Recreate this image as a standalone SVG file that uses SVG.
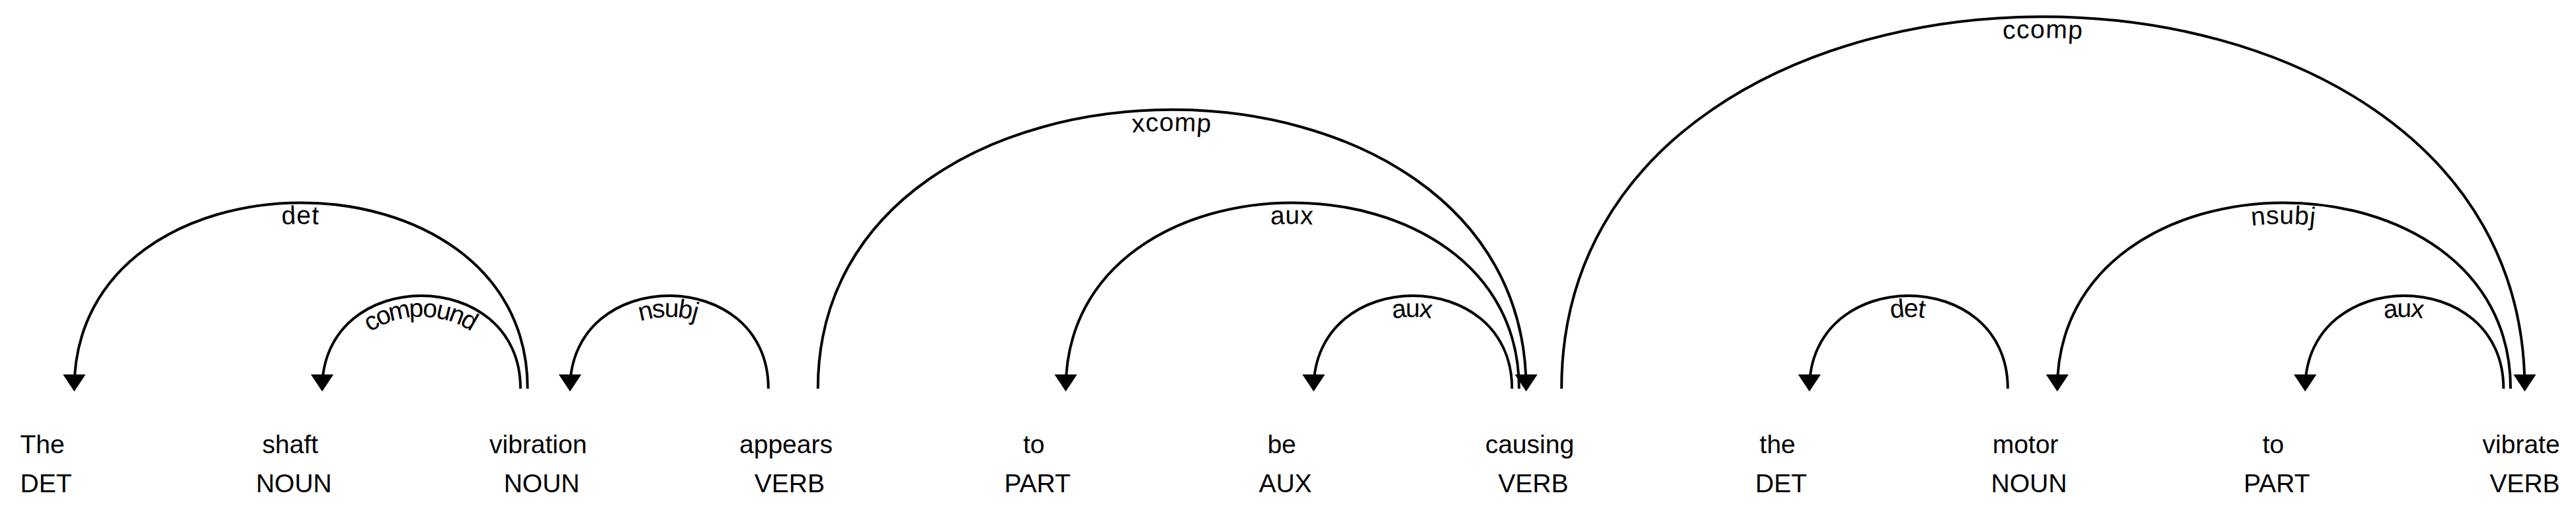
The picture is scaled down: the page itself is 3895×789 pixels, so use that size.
<svg xmlns="http://www.w3.org/2000/svg" width="3895" height="789" viewBox="0 0 3895 789">
<style>
  .w { font-family: "Liberation Sans", Arial, sans-serif; font-size: 39px; fill: #000; text-anchor: middle; }
  .arc { fill: none; stroke: #000; stroke-width: 4px; }
  .head { fill: #000; stroke: none; }
  .lbl { font-family: "Liberation Sans", Arial, sans-serif; font-size: 39px; letter-spacing: 2px; fill: #000; }
</style>
<rect x="0" y="0" width="3895" height="789" fill="#fff"/>
<defs>
  <path id="a0" d="M112.3,587.5 C112.3,212.7 797.7,212.7 797.7,587.5"/>
  <path id="a1" d="M487.1,587.5 C487.1,400.1 787,400.1 787,587.5"/>
  <path id="a2" d="M861.9,587.5 C861.9,400.1 1161.8,400.1 1161.8,587.5"/>
  <path id="a3" d="M1236.7,587.5 C1236.7,25.3 2307.6,25.3 2307.6,587.5"/>
  <path id="a4" d="M1611.5,587.5 C1611.5,212.7 2296.9,212.7 2296.9,587.5"/>
  <path id="a5" d="M1986.3,587.5 C1986.3,400.1 2286.2,400.1 2286.2,587.5"/>
  <path id="a6" d="M2361.1,587.5 C2361.1,-162.1 3817.5,-162.1 3817.5,587.5"/>
  <path id="a7" d="M2735.9,587.5 C2735.9,400.1 3035.8,400.1 3035.8,587.5"/>
  <path id="a8" d="M3110.7,587.5 C3110.7,212.7 3796.1,212.7 3796.1,587.5"/>
  <path id="a9" d="M3485.5,587.5 C3485.5,400.1 3785.4,400.1 3785.4,587.5"/>
</defs>
<g id="words">
  <g id="w0"><text class="w" x="64.1" y="685">The</text><text class="w" x="69.5" y="744">DET</text></g>
  <g id="w1"><text class="w" x="438.9" y="685">shaft</text><text class="w" x="444.3" y="744">NOUN</text></g>
  <g id="w2"><text class="w" x="813.7" y="685">vibration</text><text class="w" x="819.1" y="744">NOUN</text></g>
  <g id="w3"><text class="w" x="1188.5" y="685">appears</text><text class="w" x="1193.9" y="744">VERB</text></g>
  <g id="w4"><text class="w" x="1563.3" y="685">to</text><text class="w" x="1568.7" y="744">PART</text></g>
  <g id="w5"><text class="w" x="1938.1" y="685">be</text><text class="w" x="1943.5" y="744">AUX</text></g>
  <g id="w6"><text class="w" x="2312.9" y="685">causing</text><text class="w" x="2318.3" y="744">VERB</text></g>
  <g id="w7"><text class="w" x="2687.7" y="685">the</text><text class="w" x="2693.1" y="744">DET</text></g>
  <g id="w8"><text class="w" x="3062.5" y="685">motor</text><text class="w" x="3067.9" y="744">NOUN</text></g>
  <g id="w9"><text class="w" x="3437.3" y="685">to</text><text class="w" x="3442.7" y="744">PART</text></g>
  <g id="w10"><text class="w" x="3812.1" y="685">vibrate</text><text class="w" x="3817.5" y="744">VERB</text></g>
</g>
<g id="connectors">
  <g id="e0"><use href="#a0" class="arc"/><text class="lbl" dy="32"><textPath href="#a0" startOffset="50%" text-anchor="middle">det</textPath></text><path class="head" d="M112.3,591.8 L95.2,566.1 L129.4,566.1 Z"/></g>
  <g id="e1"><use href="#a1" class="arc"/><text class="lbl" dy="32"><textPath href="#a1" startOffset="50%" text-anchor="middle">compound</textPath></text><path class="head" d="M487.1,591.8 L470,566.1 L504.2,566.1 Z"/></g>
  <g id="e2"><use href="#a2" class="arc"/><text class="lbl" dy="32"><textPath href="#a2" startOffset="50%" text-anchor="middle">nsubj</textPath></text><path class="head" d="M861.9,591.8 L844.8,566.1 L879,566.1 Z"/></g>
  <g id="e3"><use href="#a3" class="arc"/><text class="lbl" dy="32"><textPath href="#a3" startOffset="50%" text-anchor="middle">xcomp</textPath></text><path class="head" d="M2307.6,591.8 L2290.5,566.1 L2324.7,566.1 Z"/></g>
  <g id="e4"><use href="#a4" class="arc"/><text class="lbl" dy="32"><textPath href="#a4" startOffset="50%" text-anchor="middle">aux</textPath></text><path class="head" d="M1611.5,591.8 L1594.4,566.1 L1628.6,566.1 Z"/></g>
  <g id="e5"><use href="#a5" class="arc"/><text class="lbl" dy="32"><textPath href="#a5" startOffset="50%" text-anchor="middle">aux</textPath></text><path class="head" d="M1986.3,591.8 L1969.2,566.1 L2003.4,566.1 Z"/></g>
  <g id="e6"><use href="#a6" class="arc"/><text class="lbl" dy="32"><textPath href="#a6" startOffset="50%" text-anchor="middle">ccomp</textPath></text><path class="head" d="M3817.5,591.8 L3800.4,566.1 L3834.6,566.1 Z"/></g>
  <g id="e7"><use href="#a7" class="arc"/><text class="lbl" dy="32"><textPath href="#a7" startOffset="50%" text-anchor="middle">det</textPath></text><path class="head" d="M2735.9,591.8 L2718.8,566.1 L2753,566.1 Z"/></g>
  <g id="e8"><use href="#a8" class="arc"/><text class="lbl" dy="32"><textPath href="#a8" startOffset="50%" text-anchor="middle">nsubj</textPath></text><path class="head" d="M3110.7,591.8 L3093.6,566.1 L3127.8,566.1 Z"/></g>
  <g id="e9"><use href="#a9" class="arc"/><text class="lbl" dy="32"><textPath href="#a9" startOffset="50%" text-anchor="middle">aux</textPath></text><path class="head" d="M3485.5,591.8 L3468.4,566.1 L3502.6,566.1 Z"/></g>
</g>
</svg>
